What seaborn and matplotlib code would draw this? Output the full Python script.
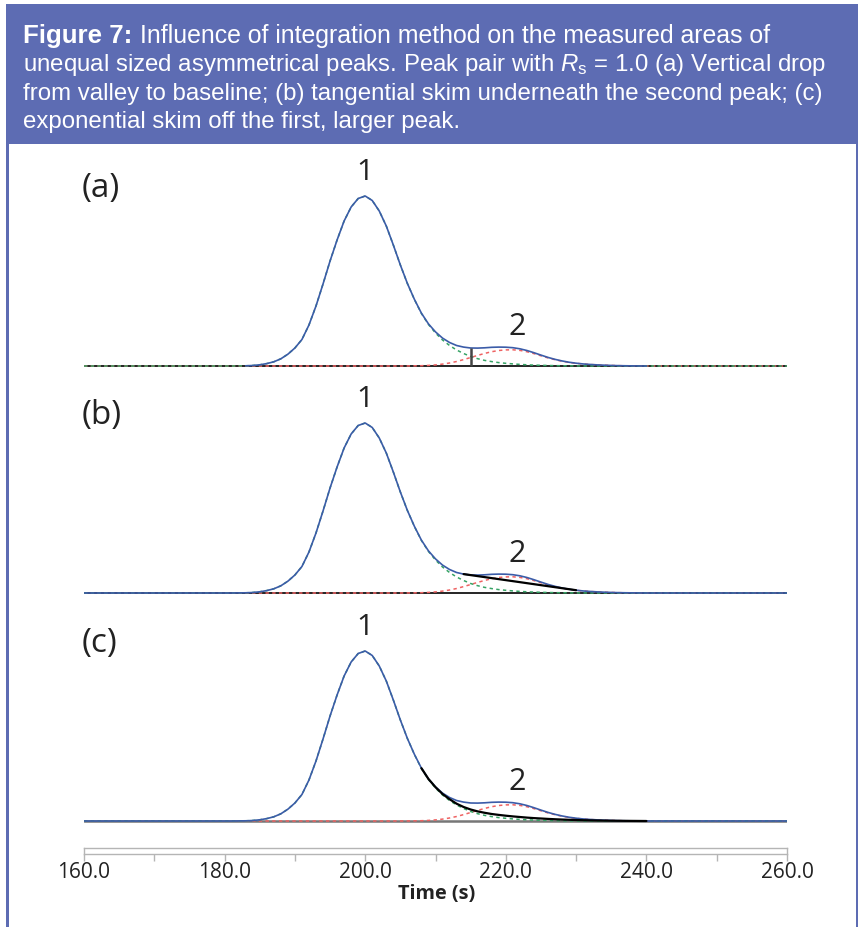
import matplotlib
matplotlib.use("Agg")
import matplotlib.pyplot as plt
import seaborn as sns
import pandas as pd
from matplotlib.patches import Rectangle

sns.set_theme(style="white")
plt.rcParams['font.family'] = ['Open Sans', 'DejaVu Sans']
plt.rcParams['mathtext.fontset'] = 'custom'
plt.rcParams['mathtext.rm'] = 'Liberation Sans'
plt.rcParams['mathtext.it'] = 'Liberation Sans:italic'
plt.rcParams['mathtext.bf'] = 'Liberation Sans:bold'

# ---------------- data (signal in arbitrary detector units) ----------------
time_s = [160, 170] + list(range(180, 241)) + [250, 260]

peak1 = [0, 0,
         0, 0, 0.1, 0.2, 0.5, 1.2, 2.4, 4.2, 7.2, 11.8,            # 180-189
         18, 26.5, 41, 60, 82, 105, 126, 145, 159, 167.5,           # 190-199
         170, 165.5, 155, 140, 121, 101, 82.5, 66.5, 52.5, 41.5,    # 200-209
         33, 26, 20.5, 16, 12.5, 9.5, 7.3, 5.6, 4.4, 3.4,           # 210-219
         2.7, 2.1, 1.6, 1.2, 0.9, 0.7, 0.5, 0.35, 0.25, 0.15,       # 220-229
         0.1, 0.05, 0.03, 0.02, 0.01, 0, 0, 0, 0, 0,                # 230-239
         0,                                                         # 240
         0, 0]

peak2 = [0, 0,
         0, 0, 0, 0, 0, 0, 0, 0, 0, 0,                              # 180-189
         0, 0, 0, 0, 0, 0, 0, 0, 0, 0,                              # 190-199
         0, 0, 0, 0, 0, 0.02, 0.06, 0.15, 0.3, 0.6,                 # 200-209
         1.1, 1.9, 3.0, 4.5, 6.4, 8.5, 10.6, 12.6, 14.3, 15.5,      # 210-219
         16.1, 16.2, 15.6, 14.3, 12.4, 10.2, 8.1, 6.3, 4.8, 3.6,    # 220-229
         2.7, 2.0, 1.5, 1.1, 0.8, 0.55, 0.35, 0.22, 0.13, 0.06,     # 230-239
         0,                                                         # 240
         0, 0]

# exponential skim under the tail of peak 1 (panel c)
skim_time = list(range(208, 241))
skim_exp = [52.8, 42, 33.8, 27, 21.8, 17.3, 14.0, 11.5, 9.6, 8.2,
            7.0, 6.1, 5.3, 4.6, 4.0, 3.4, 2.9, 2.5, 2.1, 1.75,
            1.45, 1.2, 1.0, 0.8, 0.65, 0.5, 0.4, 0.3, 0.22, 0.15,
            0.1, 0.05, 0]

drop_time = 215              # vertical drop (panel a)
tangent_times = [214, 230]   # tangential skim end points (panel b)

panel_labels = ["(a)", "(b)", "(c)"]
peak_labels = ["1", "2"]
tick_values = [160, 180, 200, 220, 240, 260]
tick_labels = ["160.0", "180.0", "200.0", "220.0", "240.0", "260.0"]

df = pd.DataFrame({"time": time_s, "peak1": peak1, "peak2": peak2})
df["total"] = df["peak1"] + df["peak2"]
skim_df = pd.DataFrame({"time": skim_time, "skim": skim_exp})

# ---------------- figure ----------------
W, H = 859, 928
fig = plt.figure(figsize=(W / 100, H / 100), dpi=100)
fig.patch.set_facecolor("white")

HEAD = "#5D6CB3"
BLUE = "#3B5CA8"
GREEN = "#36A365"
RED = "#EF6262"
TXT = "#222222"


def fbox(x0, y0, x1, y1):
    return [x0 / W, 1 - y1 / H, (x1 - x0) / W, (y1 - y0) / H]


def frect(x0, y0, x1, y1, **kw):
    b = fbox(x0, y0, x1, y1)
    fig.patches.append(Rectangle((b[0], b[1]), b[2], b[3], transform=fig.transFigure, **kw))


frect(6, 5, 858, 145, facecolor=HEAD, edgecolor="none", zorder=0)
frect(6, 5, 8.5, 928, facecolor=HEAD, edgecolor="none", zorder=0)
frect(855.5, 5, 858, 928, facecolor=HEAD, edgecolor="none", zorder=0)

HFS = 17.3
HFAM = ["Liberation Sans", "DejaVu Sans"]
renderer = fig.canvas.get_renderer()
t_bold = fig.text(23 / W, 1 - 43 / H, "Figure 7:", color="white", fontsize=18.6,
                  family=HFAM, fontweight="bold", va="baseline", ha="left")
bb = t_bold.get_window_extent(renderer=renderer)
fig.text((bb.x1 + 8) / W, 1 - 43 / H,
         "Influence of integration method on the measured areas of",
         color="white", fontsize=17.9, family=HFAM, va="baseline", ha="left")
head_lines = [
    r"unequal sized asymmetrical peaks. Peak pair with $R_\mathrm{s}$ = 1.0 (a) Vertical drop",
    r"from valley to baseline; (b) tangential skim underneath the second peak; (c)",
    r"exponential skim off the first, larger peak.",
]
for i, line in enumerate(head_lines):
    fig.text(23 / W, 1 - (43 + 28.4 * (i + 1)) / H, line, color="white", fontsize=HFS,
             family=HFAM, va="baseline", ha="left")

baselines = [367, 594, 822]
for i, yb in enumerate(baselines):
    ax = fig.add_axes(fbox(84, yb - 200, 787, yb + 10))
    ax.set_xlim(160, 260)
    ax.set_ylim(-10, 200)
    ax.axis("off")
    base_col = "#777777" if i == 2 else "black"
    base_lw = 1.8 if i == 2 else 1.2
    sub = df[(df.time >= 183) & (df.time <= 241)] if i == 0 else df
    if i > 0:
        ax.axhline(0, color=base_col, lw=base_lw, zorder=1)
    sns.lineplot(data=df, x="time", y="peak2", ax=ax, color=RED, lw=1.1,
                 linestyle=(0, (2.2, 2.2)), zorder=2)
    sns.lineplot(data=df, x="time", y="peak1", ax=ax, color=GREEN, lw=1.1,
                 linestyle=(0, (2.2, 2.2)), zorder=2)
    sns.lineplot(data=sub, x="time", y="total", ax=ax, color=BLUE, lw=1.2, zorder=3)
    if i == 0:
        ax.axhline(0, color=base_col, lw=base_lw, zorder=1.5)
        hd = float(df.loc[df.time == drop_time, "total"].iloc[0])
        ax.vlines(drop_time, 0, hd, color="#444444", lw=1.8, zorder=4)
    if i == 1:
        tdf = df[df.time.isin(tangent_times)]
        sns.lineplot(data=tdf, x="time", y="total", ax=ax, color="black", lw=1.6, zorder=4)
    if i == 2:
        sns.lineplot(data=skim_df, x="time", y="skim", ax=ax, color="black", lw=1.6, zorder=4)
    ax.text(159.7, 178, panel_labels[i], fontsize=24, color=TXT, ha="left", va="center")
    ax.text(200, 194, peak_labels[0], fontsize=21.5, color=TXT, ha="center", va="center")
    ax.text(221.6, 40, peak_labels[1], fontsize=22, color=TXT, ha="center", va="center")

# x-axis bar
axx = fig.add_axes(fbox(84, 849, 787, 855))
axx.set_xlim(160, 260)
axx.set_ylim(0, 1)
axx.set_yticks([])
for s in axx.spines.values():
    s.set_color("#B5B5B5")
    s.set_linewidth(1.0)
axx.set_xticks(tick_values)
axx.set_xticklabels(tick_labels)
axx.set_xticks([170, 190, 210, 230, 250], minor=True)
axx.tick_params(axis="x", which="both", bottom=True, direction="out", length=5,
                width=1, color="#B5B5B5", labelsize=15, pad=0, labelcolor=TXT)
axx.set_facecolor("white")
fig.text(437 / W, 1 - 894 / H, "Time (s)", fontsize=14.3, fontweight="bold",
         color=TXT, ha="center", va="center")

fig.savefig("out.png", dpi=100)
